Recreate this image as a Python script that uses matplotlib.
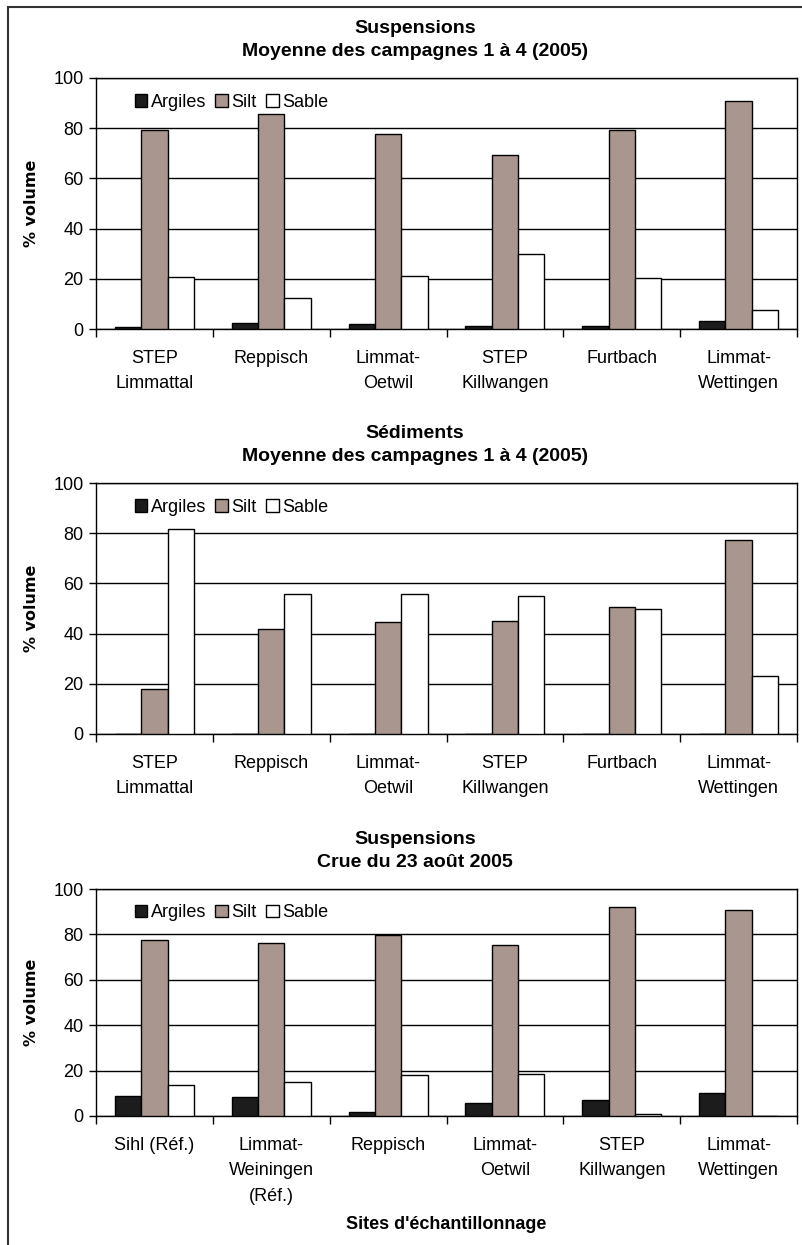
import matplotlib.pyplot as plt
import numpy as np
from matplotlib.patches import Rectangle

plt.rcParams['font.family'] = ['Liberation Sans', 'DejaVu Sans']

# Données
sites_moy = ["STEP\nLimmattal", "Reppisch", "Limmat-\nOetwil", "STEP\nKillwangen",
             "Furtbach", "Limmat-\nWettingen"]
sites_crue = ["Sihl (Réf.)", "Limmat-\nWeiningen\n(Réf.)", "Reppisch", "Limmat-\nOetwil",
              "STEP\nKillwangen", "Limmat-\nWettingen"]
series = ["Argiles", "Silt", "Sable"]

susp_argiles = [0.7, 2.5, 2.0, 1.3, 1.3, 3.3]
susp_silt = [79.2, 85.5, 77.6, 69.2, 79.2, 90.7]
susp_sable = [20.6, 12.5, 21.1, 29.8, 20.2, 7.6]

sed_argiles = [0.0, 0.0, 0.0, 0.0, 0.0, 0.0]
sed_silt = [17.9, 42.0, 44.6, 45.1, 50.4, 77.1]
sed_sable = [81.8, 55.7, 55.7, 54.9, 49.9, 23.3]

crue_argiles = [9.0, 8.4, 1.9, 5.6, 7.1, 10.0]
crue_silt = [77.5, 76.0, 79.7, 75.4, 92.2, 90.9]
crue_sable = [13.5, 14.9, 18.1, 18.7, 1.0, 0.0]

yticks = [0, 20, 40, 60, 80, 100]

colors = ["#1c1c1c", "#a8968f", "#ffffff"]

W, H = 803, 1245
fig = plt.figure(figsize=(W / 100, H / 100), dpi=100)

# cadre de la page
fig.add_artist(Rectangle((8 / W, -0.05), 1.2, 1.05 - 7 / H, transform=fig.transFigure,
                         fill=False, edgecolor="#333333", linewidth=1.5))


def draw_panel(top, bottom, labels, values, title, xlabel=None):
    ax = fig.add_axes([96 / W, (H - bottom) / H, 701 / W, (bottom - top) / H])
    x = np.arange(len(labels))
    w = 0.225
    for i, (name, vals) in enumerate(zip(series, values)):
        ax.bar(x + (i - 1) * w, vals, w, color=colors[i], edgecolor="black",
               linewidth=1.0, label=name, zorder=3)
    ax.set_ylim(0, 100)
    ax.set_xlim(-0.5, len(labels) - 0.5)
    ax.set_yticks(yticks)
    ax.yaxis.grid(True, color="black", linewidth=1.0, zorder=0)
    ax.set_xticks(x)
    ax.set_xticklabels(labels, fontsize=13, linespacing=1.65)
    ax.set_xticks(np.arange(len(labels) + 1) - 0.5, minor=True)
    ax.tick_params(axis="x", which="major", length=0, pad=15)
    ax.tick_params(axis="x", which="minor", length=6, width=1, direction="out")
    ax.tick_params(axis="y", length=5, width=1, labelsize=13, pad=4)
    for s in ax.spines.values():
        s.set_linewidth(1.0)
    ax.set_ylabel("% volume", fontsize=11.5, fontweight="bold", family=["DejaVu Sans"],
                  labelpad=10)
    ax.legend(loc="upper left", bbox_to_anchor=(0.045, 0.965), ncol=3, frameon=False,
              fontsize=13, handlelength=0.7, handleheight=0.7, handletextpad=0.2,
              columnspacing=0.5, borderaxespad=0)
    if xlabel:
        ax.set_xlabel(xlabel, fontsize=13, fontweight="bold", labelpad=8)
    fig.text(0.517, 1 - (top - 38) / H, title, ha="center", va="center", fontsize=14,
             fontweight="bold", linespacing=1.5)
    return ax


draw_panel(78, 329, sites_moy, [susp_argiles, susp_silt, susp_sable],
           "Suspensions\nMoyenne des campagnes 1 à 4 (2005)")
draw_panel(483, 734, sites_moy, [sed_argiles, sed_silt, sed_sable],
           "Sédiments\nMoyenne des campagnes 1 à 4 (2005)")
draw_panel(889, 1116, sites_crue, [crue_argiles, crue_silt, crue_sable],
           "Suspensions\nCrue du 23 août 2005", xlabel="Sites d'échantillonnage")

fig.savefig("out.png", dpi=100)
